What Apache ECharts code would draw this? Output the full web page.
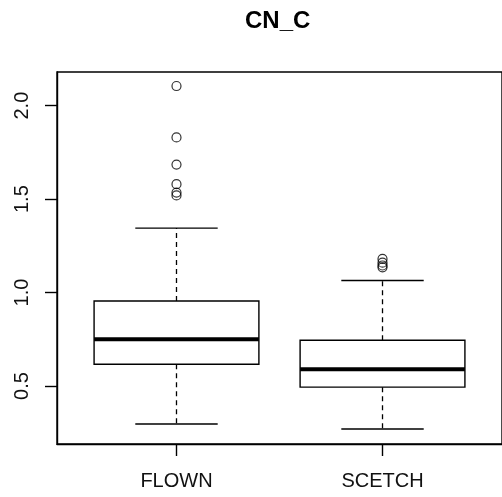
<!DOCTYPE html>
<html>
<head>
<meta charset="utf-8">
<script src="https://cdn.jsdelivr.net/npm/echarts@6/dist/echarts.min.js"></script>
<style>
  html, body { margin: 0; padding: 0; background: #fff; }
  #chart { width: 502px; height: 497px; }
</style>
</head>
<body>
<div id="chart"></div>
<script>
const categories = ['FLOWN', 'SCETCH']
const lowerWhisker = [0.297, 0.27]
const q1 = [0.617, 0.494]
const median = [0.75, 0.59]
const q3 = [0.955, 0.745]
const upperWhisker = [1.345, 1.065]
const outliersFlown = [2.105, 1.83, 1.685, 1.58, 1.535, 1.52]
const outliersScetch = [1.18, 1.16, 1.145, 1.135]
const yTicks = [0.5, 1.0, 1.5, 2.0]

const boxData = categories.map((_, i) => [i + 1, lowerWhisker[i], q1[i], median[i], q3[i], upperWhisker[i]])
const outlierData = [
  ...outliersFlown.map(v => [1, v]),
  ...outliersScetch.map(v => [2, v])
]

const font = '"Liberation Sans", Arial, sans-serif'
const ink = '#000'

const renderBox = (params, api) => {
  const x = api.value(0)
  const half = api.size([0.4, 0])[0]
  const cap = api.size([0.2, 0])[0]
  const lw = api.coord([x, api.value(1)])
  const b1 = api.coord([x, api.value(2)])
  const md = api.coord([x, api.value(3)])
  const b3 = api.coord([x, api.value(4)])
  const uw = api.coord([x, api.value(5)])
  const cx = lw[0]
  const solid = { stroke: ink, lineWidth: 1.4, fill: null }
  const dashed = { stroke: ink, lineWidth: 1.3, lineDash: [5, 4] }
  return {
    type: 'group',
    children: [
      { type: 'line', shape: { x1: cx, y1: b3[1], x2: cx, y2: uw[1] }, style: dashed },
      { type: 'line', shape: { x1: cx, y1: b1[1], x2: cx, y2: lw[1] }, style: dashed },
      { type: 'line', shape: { x1: cx - cap, y1: uw[1], x2: cx + cap, y2: uw[1] }, style: solid },
      { type: 'line', shape: { x1: cx - cap, y1: lw[1], x2: cx + cap, y2: lw[1] }, style: solid },
      { type: 'rect', shape: { x: cx - half, y: b3[1], width: half * 2, height: b1[1] - b3[1] }, style: solid },
      { type: 'line', shape: { x1: cx - half, y1: md[1], x2: cx + half, y2: md[1] }, style: { stroke: ink, lineWidth: 4 } }
    ]
  }
}

const option = {
  animation: false,
  title: {
    text: 'CN_C',
    left: 245,
    top: 9,
    padding: 0,
    textStyle: { fontFamily: font, fontSize: 24, fontWeight: 'bold', color: ink }
  },
  grid: {
    left: 57, top: 72, width: 446, height: 372,
    show: true, borderColor: ink, borderWidth: 1.4
  },
  xAxis: {
    type: 'value',
    min: 0.42,
    max: 2.58,
    splitLine: { show: false },
    axisLine: { show: true, lineStyle: { color: ink, width: 1.4 } },
    axisTick: { show: true, length: 12, customValues: [1, 2], lineStyle: { color: ink, width: 1.4 } },
    axisLabel: {
      customValues: [1, 2],
      formatter: v => categories[Math.round(v) - 1] || '',
      margin: 27,
      fontFamily: font,
      fontSize: 20,
      color: '#111'
    }
  },
  yAxis: {
    type: 'value',
    min: 0.19,
    max: 2.18,
    splitLine: { show: false },
    axisLine: { show: true, lineStyle: { color: ink, width: 1.4 } },
    axisTick: { show: true, length: 12, customValues: yTicks, lineStyle: { color: ink, width: 1.4 } },
    axisLabel: {
      customValues: yTicks,
      formatter: v => v.toFixed(1),
      rotate: 90,
      margin: 25,
      fontFamily: font,
      fontSize: 20,
      color: '#111'
    }
  },
  series: [
    {
      type: 'custom',
      renderItem: renderBox,
      data: boxData,
      encode: { x: 0, y: [1, 2, 3, 4, 5] }
    },
    {
      type: 'scatter',
      data: outlierData,
      symbol: 'circle',
      symbolSize: 9,
      itemStyle: { color: 'transparent', borderColor: ink, borderWidth: 1.2 }
    }
  ]
}

const chart = echarts.init(document.getElementById('chart'), null, { renderer: 'canvas' })
chart.setOption(option)
</script>
</body>
</html>
